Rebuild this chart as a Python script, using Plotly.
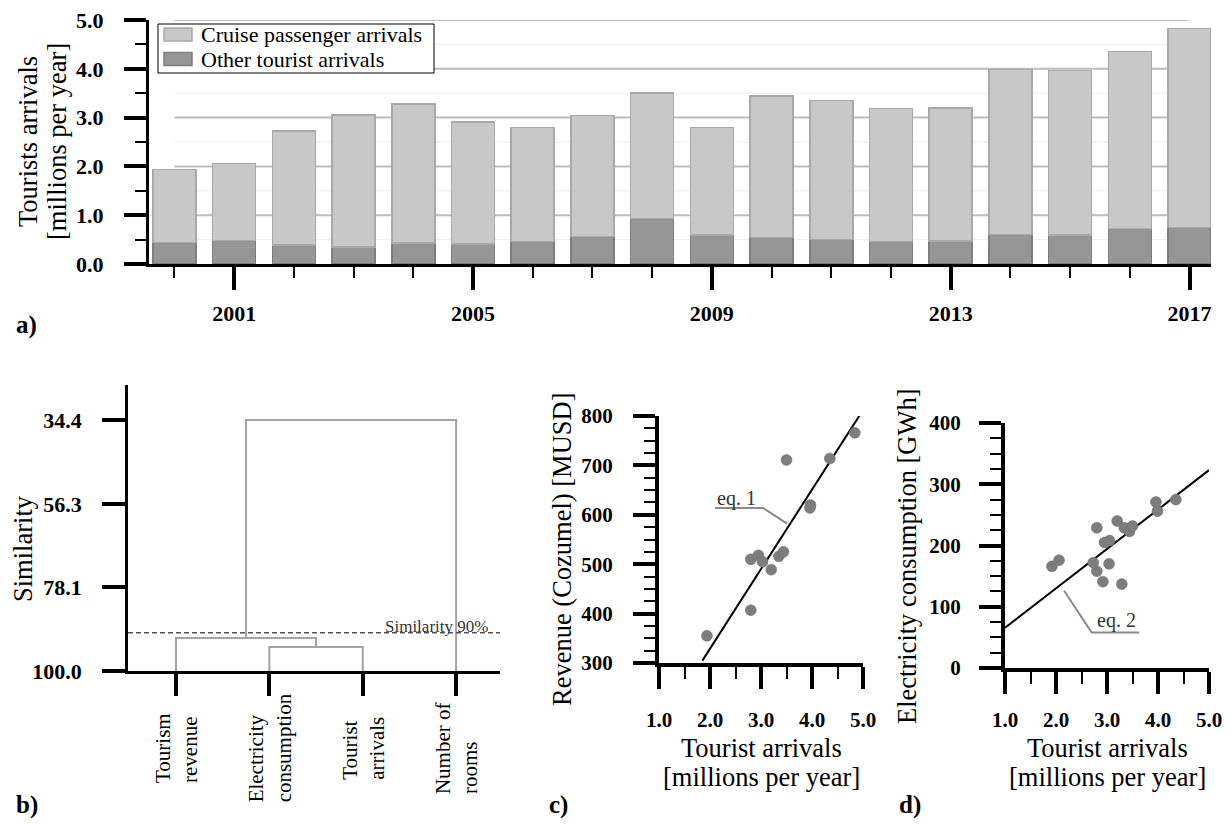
import plotly.graph_objects as go

W, H = 1231, 824
SERIF = "Liberation Serif, Times New Roman, serif"

# ---------------- data ----------------
years = list(range(2000, 2018))
label_years = [2001, 2005, 2009, 2013, 2017]
series_names = ["Cruise passenger arrivals", "Other tourist arrivals"]
other_arrivals = [0.44, 0.48, 0.39, 0.35, 0.43, 0.41, 0.46, 0.56, 0.93, 0.59,
                  0.54, 0.50, 0.46, 0.47, 0.60, 0.59, 0.73, 0.75]
cruise_arrivals = [1.50, 1.58, 2.34, 2.70, 2.85, 2.50, 2.34, 2.48, 2.57, 2.21,
                   2.90, 2.85, 2.73, 2.73, 3.39, 3.38, 3.62, 4.08]
arrival_ticks = [0, 1, 2, 3, 4, 5]

dendro_labels = [["Tourism", "revenue"], ["Electricity", "consumption"],
                 ["Tourist", "arrivals"], ["Number of", "rooms"]]
# (child a, child b, similarity at merge); ids >= 4 are clusters
dendro_merges = [(1, 2, 93.7), (0, 4, 91.4), (5, 3, 34.4)]
similarity_ticks = [34.4, 56.3, 78.1, 100.0]
similarity_cut = 90

rev_x = [1.94, 2.80, 2.80, 2.95, 3.03, 3.20, 3.35, 3.44, 3.50, 3.97, 3.96, 4.35, 4.84]
rev_y = [355, 407, 510, 518, 505, 489, 516, 525, 711, 620, 614, 714, 766]
eq1_slope, eq1_intercept, eq1_xrange = 161.0, 7.0, [1.85, 4.95]

elec_x = [1.92, 2.06, 2.80, 2.73, 2.80, 2.92, 2.95, 3.05, 3.04, 3.20, 3.29,
          3.34, 3.44, 3.50, 3.96, 3.99, 4.35]
elec_y = [166, 176, 229, 172, 158, 141, 205, 208, 170, 240, 137,
          229, 223, 232, 271, 256, 275]
eq2_slope, eq2_intercept, eq2_xrange = 64.3, 1.5, [1.0, 5.0]

eq1_leader_x, eq1_leader_y = [2.10, 3.04, 3.51], [614, 614, 582]
eq2_leader_x, eq2_leader_y = [2.16, 2.70, 3.63], [126, 58, 58]

LIGHT, LIGHT_EDGE = "#c8c8c8", "#a9a9a9"
DARK, DARK_EDGE = "#969696", "#7e7e7e"


def px(x):
    return x / W


def py(y):
    return 1 - y / H


fig = go.Figure()

# ---------------- panel a ----------------
fig.add_trace(go.Bar(x=years, y=other_arrivals, name=series_names[1], showlegend=False,
                     width=0.72, marker=dict(color=DARK, line=dict(color=DARK_EDGE, width=1.5)),
                     xaxis="x", yaxis="y"))
fig.add_trace(go.Bar(x=years, y=cruise_arrivals, name=series_names[0], showlegend=False,
                     width=0.72, marker=dict(color=LIGHT, line=dict(color=LIGHT_EDGE, width=1.5)),
                     xaxis="x", yaxis="y"))

shapes = []
for v in arrival_ticks[1:]:
    shapes.append(dict(type="line", xref="x", yref="y", x0=years[0], x1=years[-1], y0=v, y1=v,
                       line=dict(color="#bdbdbd", width=2), layer="below"))
    shapes.append(dict(type="line", xref="x", yref="y", x0=years[0], x1=years[-1], y0=v - 0.5, y1=v - 0.5,
                       line=dict(color="#eeeeee", width=1), layer="below"))

# legend box (drawn)
shapes.append(dict(type="rect", xref="paper", yref="paper", x0=px(158), x1=px(434), y0=py(73), y1=py(24),
                   line=dict(color="black", width=1), fillcolor="white"))
for (yc, fc, ec) in [(34.5, LIGHT, LIGHT_EDGE), (59, DARK, DARK_EDGE)]:
    shapes.append(dict(type="rect", xref="paper", yref="paper", x0=px(164), x1=px(192),
                       y0=py(yc + 6.5), y1=py(yc - 6.5), line=dict(color=ec, width=1.5), fillcolor=fc))

# ---------------- panel b ----------------
pos = {i: float(i) for i in range(len(dendro_labels))}
hgt = {i: 100.0 for i in range(len(dendro_labels))}
nid = len(dendro_labels)
for a, b, h in dendro_merges:
    fig.add_trace(go.Scatter(x=[pos[a], pos[a], pos[b], pos[b]], y=[hgt[a], h, h, hgt[b]],
                             mode="lines", line=dict(color="#a3a3a3", width=2),
                             showlegend=False, hoverinfo="skip", xaxis="x2", yaxis="y2"))
    pos[nid] = (pos[a] + pos[b]) / 2
    hgt[nid] = h
    nid += 1

shapes.append(dict(type="line", xref="x2 domain", yref="y2", x0=0, x1=1,
                   y0=similarity_cut, y1=similarity_cut,
                   line=dict(color="#555555", width=1.5, dash="5px,3px")))

# ---------------- panel c ----------------
fig.add_trace(go.Scatter(x=eq1_xrange, y=[eq1_slope * v + eq1_intercept for v in eq1_xrange],
                         mode="lines", line=dict(color="black", width=2),
                         showlegend=False, xaxis="x3", yaxis="y3"))
fig.add_trace(go.Scatter(x=rev_x, y=rev_y, mode="markers",
                         marker=dict(color="#7d7d7d", size=11, line=dict(color="#6e6e6e", width=0.5)),
                         showlegend=False, xaxis="x3", yaxis="y3"))
fig.add_trace(go.Scatter(x=eq1_leader_x, y=eq1_leader_y, mode="lines",
                         line=dict(color="#8a8a8a", width=2), showlegend=False, hoverinfo="skip",
                         xaxis="x3", yaxis="y3"))

# ---------------- panel d ----------------
fig.add_trace(go.Scatter(x=eq2_xrange, y=[eq2_slope * v + eq2_intercept for v in eq2_xrange],
                         mode="lines", line=dict(color="black", width=2),
                         showlegend=False, xaxis="x4", yaxis="y4"))
fig.add_trace(go.Scatter(x=elec_x, y=elec_y, mode="markers",
                         marker=dict(color="#7d7d7d", size=11, line=dict(color="#6e6e6e", width=0.5)),
                         showlegend=False, xaxis="x4", yaxis="y4"))
fig.add_trace(go.Scatter(x=eq2_leader_x, y=eq2_leader_y, mode="lines",
                         line=dict(color="#8a8a8a", width=2), showlegend=False, hoverinfo="skip",
                         xaxis="x4", yaxis="y4"))

tickfont = dict(family=SERIF, size=22, color="black", weight="bold")
tickfont_s = dict(family=SERIF, size=21, color="black", weight="bold")
common = dict(showline=True, linecolor="black", ticks="outside", tickcolor="black",
              showgrid=False, zeroline=False, tickfont=tickfont, fixedrange=True,
              automargin=False)

layout = dict(
    width=W, height=H, margin=dict(l=0, r=0, t=0, b=0, autoexpand=False),
    paper_bgcolor="white", plot_bgcolor="white",
    font=dict(family=SERIF, color="black"),
    barmode="stack",
    showlegend=False,
    # a
    xaxis=dict(common, domain=[px(149), px(1211)], range=[1999.573, 2017.36], anchor="y",
               linewidth=3, layer="below traces",
               tickmode="array", tickvals=label_years, ticktext=[str(v) for v in label_years],
               ticklen=23, tickwidth=4, ticklabelstandoff=5,
               minor=dict(tickmode="array", tickvals=years, ticklen=11, tickwidth=2,
                          tickcolor="black", showgrid=False)),
    yaxis=dict(common, domain=[py(264), py(20)], range=[0, 5.0], anchor="x",
               linewidth=3, tickmode="array", tickvals=arrival_ticks,
               ticktext=["%.1f" % v for v in arrival_ticks],
               ticklen=22, tickwidth=4, ticklabelstandoff=16,
               minor=dict(dtick=0.5, tick0=0, ticklen=11, tickwidth=2, tickcolor="black", showgrid=False)),
    # b
    xaxis2=dict(common, domain=[px(128), px(500)], range=[-0.514, 3.47], anchor="y2",
                linewidth=2.5, tickmode="array", tickvals=list(range(len(dendro_labels))),
                showticklabels=False, ticklen=22, tickwidth=4),
    yaxis2=dict(common, domain=[py(671), py(385)], range=[100, 25.25], anchor="x2",
                linewidth=2.5, tickmode="array", tickvals=similarity_ticks,
                ticktext=["%.1f" % v for v in similarity_ticks],
                ticklen=23, tickwidth=4, ticklabelstandoff=16),
    # c
    xaxis3=dict(common, domain=[px(659), px(863)], range=[1, 5], anchor="y3", tickfont=tickfont_s,
                linewidth=4, dtick=1, tick0=1, tickformat=".1f", ticklen=22, tickwidth=4,
                ticklabelstandoff=13,
                minor=dict(dtick=0.5, tick0=1, ticklen=12, tickwidth=2, tickcolor="black", showgrid=False)),
    yaxis3=dict(common, domain=[py(663), py(416)], range=[300, 800], anchor="x3", tickfont=tickfont_s,
                linewidth=4, dtick=100, tick0=300, ticklen=22, tickwidth=4, ticklabelstandoff=16,
                minor=dict(dtick=25, tick0=300, ticklen=11, tickwidth=2, tickcolor="black", showgrid=False)),
    # d
    xaxis4=dict(common, domain=[px(1005), px(1209)], range=[1, 5], anchor="y4", tickfont=tickfont_s,
                linewidth=4, dtick=1, tick0=1, tickformat=".1f", ticklen=22, tickwidth=4,
                ticklabelstandoff=8,
                minor=dict(dtick=0.5, tick0=1, ticklen=12, tickwidth=2, tickcolor="black", showgrid=False)),
    yaxis4=dict(common, domain=[py(668), py(423)], range=[0, 400], anchor="x4", tickfont=tickfont_s,
                linewidth=4, dtick=100, tick0=0, ticklen=22, tickwidth=4, ticklabelstandoff=14,
                minor=dict(dtick=25, tick0=0, ticklen=11, tickwidth=2, tickcolor="black", showgrid=False)),
    shapes=shapes,
)

ann = []
title_font = dict(family=SERIF, size=26.5, color="black")
# panel a y title (two lines)
ann.append(dict(text="Tourists arrivals", x=px(28), y=py(142), textangle=-90, font=title_font))
ann.append(dict(text="[millions per year]", x=px(57), y=py(142), textangle=-90, font=title_font))
ann.append(dict(text="Similarity", x=px(23), y=py(549), textangle=-90, font=title_font))
ann.append(dict(text="Revenue (Cozumel) [MUSD]", x=px(562), y=py(549), textangle=-90, font=title_font))
ann.append(dict(text="Electricity consumption [GWh]", x=px(907), y=py(556), textangle=-90, font=title_font))
for xc in (761, 1107):
    ann.append(dict(text="Tourist arrivals", x=px(xc), y=py(748), font=title_font))
    ann.append(dict(text="[millions per year]", x=px(xc), y=py(777), font=title_font))

# legend texts
for name, yc in zip(series_names, (34.5, 59)):
    ann.append(dict(text=name, x=px(199), y=py(yc), xanchor="left",
                    font=dict(family=SERIF, size=22, color="black")))

lab_font = dict(family=SERIF, size=25, color="black", weight="bold")
for t, x, y in [("a)", 27, 325), ("b)", 27, 805), ("c)", 558, 805), ("d)", 910, 805)]:
    ann.append(dict(text=t, x=px(x), y=py(y), font=lab_font))

ann.append(dict(text="Similarity 90%", x=px(436), y=py(626),
                font=dict(family=SERIF, size=17, color="#333333")))
for i, lab in enumerate(dendro_labels):
    ann.append(dict(text="<br>".join(lab), xref="x2", x=i, y=py(748), textangle=-90, align="left",
                    font=dict(family=SERIF, size=21, color="black")))

ann.append(dict(text="eq. 1", xref="x3", yref="y3", x=2.51, y=633,
                font=dict(family=SERIF, size=20, color="#333333")))
ann.append(dict(text="eq. 2", xref="x4", yref="y4", x=3.18, y=78,
                font=dict(family=SERIF, size=20, color="#333333")))

for a in ann:
    a.setdefault("xref", "paper")
    a.setdefault("yref", "paper")
    a["showarrow"] = False
    a.setdefault("xanchor", "center")
    a["yanchor"] = "middle"

layout["annotations"] = ann
fig.update_layout(**layout)
fig.write_html("out.html", config={"displayModeBar": False},
               post_script="document.body.style.margin='0px';")
